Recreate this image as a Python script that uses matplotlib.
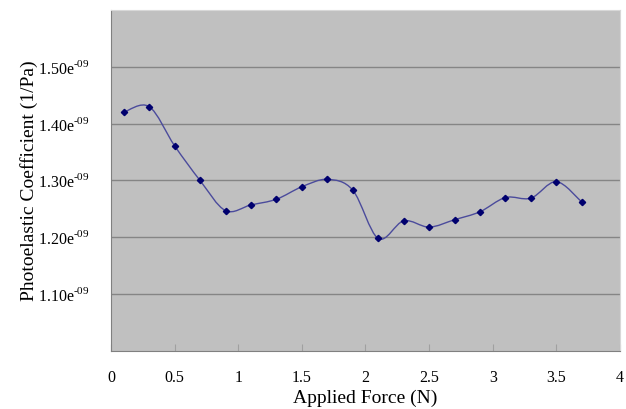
"""
Photoelastic coefficient vs applied force.
"""

import numpy as np
import matplotlib
matplotlib.use('Agg')
import matplotlib.pyplot as plt
from matplotlib.path import Path
from matplotlib.patches import PathPatch
from matplotlib.ticker import FuncFormatter

#data
force = [0.1, 0.3, 0.5, 0.7, 0.9, 1.1, 1.3, 1.5, 1.7, 1.9,
         2.1, 2.3, 2.5, 2.7, 2.9, 3.1, 3.3, 3.5, 3.7]
coef = [1.420, 1.430, 1.361, 1.300, 1.247, 1.257, 1.267, 1.289, 1.302, 1.283,
        1.198, 1.229, 1.218, 1.231, 1.245, 1.270, 1.269, 1.298, 1.262]  # x 1e-9
yticks = [1.1, 1.2, 1.3, 1.4, 1.5]
xticks = [0, 0.5, 1, 1.5, 2, 2.5, 3, 3.5, 4]

plt.rcParams['font.family'] = 'Liberation Serif'
plt.rcParams['mathtext.fontset'] = 'custom'
plt.rcParams['mathtext.rm'] = 'Liberation Serif'

fig = plt.figure(figsize=(6.26, 4.09), dpi=100)
ax = fig.add_axes([0.1773, 0.1418, 0.8131, 0.8338])
ax.set_facecolor('#c0c0c0')

#smoothed line (excel style bezier through the points)
x = np.array(force)
y = np.array(coef) * 1e-9
pts = np.column_stack([x, y])
verts = [pts[0]]
codes = [Path.MOVETO]
n = len(pts)
for i in range(n - 1):
    p0 = pts[max(i - 1, 0)]
    p1 = pts[i]
    p2 = pts[i + 1]
    p3 = pts[min(i + 2, n - 1)]
    verts += [p1 + (p2 - p0) / 6, p2 - (p3 - p1) / 6, p2]
    codes += [Path.CURVE4] * 3
ax.add_patch(PathPatch(Path(verts, codes), facecolor='none',
                       edgecolor='#4b4b9c', lw=1.0, zorder=3))
ax.plot(x, y, linestyle='none', marker='D', ms=3.2, color='#00006e', zorder=4)

#axes
ax.set_xlim(0, 4)
ax.set_ylim(1.0e-9, 1.6e-9)
ax.set_xticks(xticks)
ax.set_xticklabels([('%g' % t) for t in xticks])
ax.set_yticks([t * 1e-9 for t in yticks])
ax.yaxis.set_major_formatter(FuncFormatter(
    lambda v, p: '%.2fe$^{\\mathregular{\u2010 09}}$'.replace(' ', '') % (v * 1e9)))
ax.grid(True, axis='y', color='#858585', lw=1.0)
ax.set_axisbelow(True)
ax.tick_params(axis='x', direction='in', length=5, color='#a0a0a0',
               labelsize=11.5, pad=14)
ax.tick_params(axis='y', length=0, labelsize=11.5, pad=15.5)
for s in ['left', 'bottom']:
    ax.spines[s].set_color('#808080')
for s in ['top', 'right']:
    ax.spines[s].set_color('#d8d8d8')

ax.set_xlabel('Applied Force (N)', fontsize=14, labelpad=2)
ax.set_ylabel('Photoelastic Coefficient (1/Pa)', fontsize=14, labelpad=0)

fig.savefig('out.png', dpi=100)
